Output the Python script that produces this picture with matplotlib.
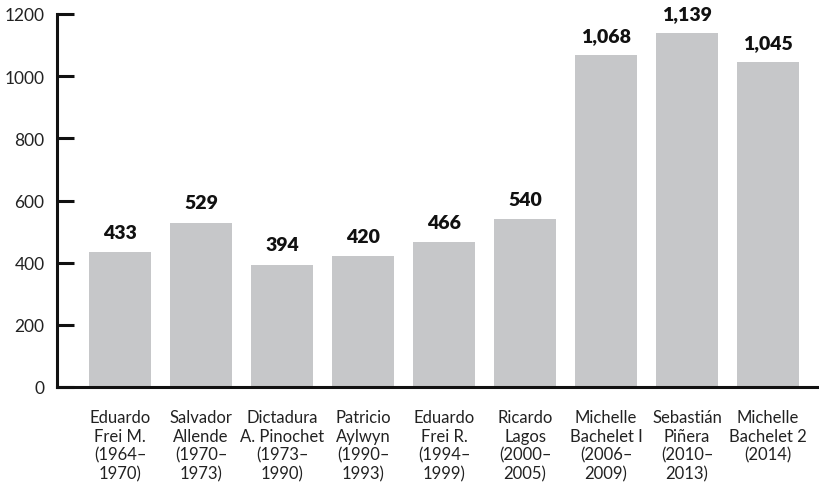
import matplotlib
matplotlib.use("Agg")
import matplotlib.pyplot as plt

# data
presidents = [
    "Eduardo\nFrei M.\n(1964–\n1970)",
    "Salvador\nAllende\n(1970–\n1973)",
    "Dictadura\nA. Pinochet\n(1973–\n1990)",
    "Patricio\nAylwyn\n(1990–\n1993)",
    "Eduardo\nFrei R.\n(1994–\n1999)",
    "Ricardo\nLagos\n(2000–\n2005)",
    "Michelle\nBachelet I\n(2006–\n2009)",
    "Sebastián\nPiñera\n(2010–\n2013)",
    "Michelle\nBachelet 2\n(2014)",
]
values = [433, 529, 394, 420, 466, 540, 1068, 1139, 1045]
value_labels = ["433", "529", "394", "420", "466", "540", "1,068", "1,139", "1,045"]
y_ticks = [0, 200, 400, 600, 800, 1000, 1200]

plt.rcParams["font.family"] = ["Lato", "DejaVu Sans"]

fig = plt.figure(figsize=(8.19, 4.85), dpi=100)
ax = fig.add_axes([57 / 819, 97 / 485, 1 - 57 / 819, 373 / 485])

x = list(range(len(values)))
ax.bar(x, values, width=0.765, color="#c6c7c9")

for xi, v, lab in zip(x, values, value_labels):
    ax.annotate(lab, (xi, v), xytext=(0, 8), textcoords="offset points",
                ha="center", va="bottom", fontsize=14, fontweight="heavy",
                color="#111111")

ax.set_xlim(-0.78, 8.63)
ax.set_ylim(0, 1200)
ax.set_yticks(y_ticks)
ax.set_yticklabels([str(t) for t in y_ticks])
ax.set_xticks(x)
ax.set_xticklabels(presidents, linespacing=1.2)

for side in ["top", "right"]:
    ax.spines[side].set_visible(False)
for side in ["left", "bottom"]:
    ax.spines[side].set_linewidth(2.2)
    ax.spines[side].set_color("#111111")

ax.tick_params(axis="y", direction="in", length=12, width=2.2, color="#111111",
               pad=9, labelsize=12.5, labelcolor="#222222")
ax.tick_params(axis="x", length=0, pad=16, labelsize=12, labelcolor="#222222")
ax.spines["left"].set_capstyle("projecting")

fig.savefig("out.png", dpi=100)
